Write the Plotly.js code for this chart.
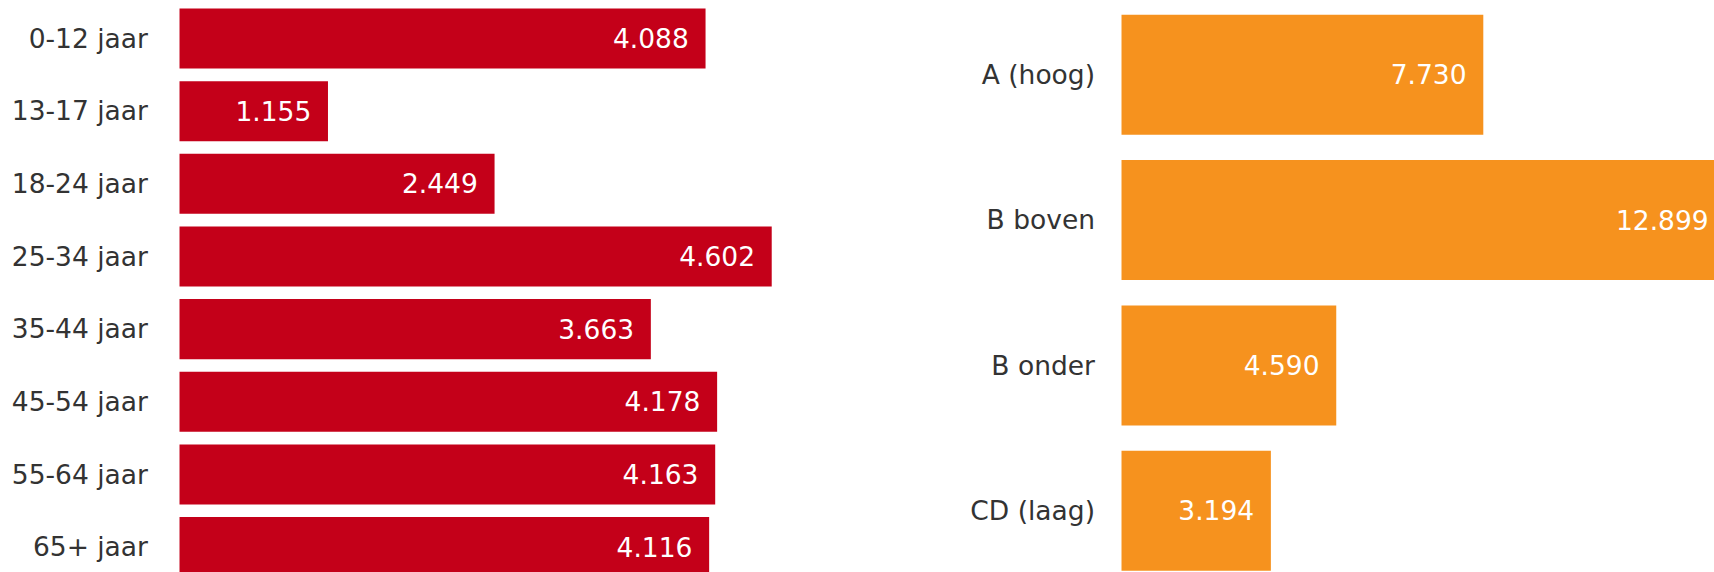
<!DOCTYPE html>
<html>
<head>
<meta charset="utf-8">
<script src="https://cdn.plot.ly/plotly-3.0.1.min.js"></script>
<style>html,body{margin:0;padding:0;background:#fff;}#chart{width:1714px;height:572px;}</style>
</head>
<body>
<div id="chart"></div>
<script>
// Leeftijd (age groups)
const ageCategories = ['0-12 jaar', '13-17 jaar', '18-24 jaar', '25-34 jaar', '35-44 jaar', '45-54 jaar', '55-64 jaar', '65+ jaar'];
const ageValues = [4088, 1155, 2449, 4602, 3663, 4178, 4163, 4116];
// Sociale klasse
const classCategories = ['A (hoog)', 'B boven', 'B onder', 'CD (laag)'];
const classValues = [7730, 12899, 4590, 3194];

const W = 1714;
const fontFam = '"DejaVu Sans", Verdana, sans-serif';
const FS = 26.5;
const PAD = '\u00a0\u2009';

const traces = [
  {
    type: 'bar', orientation: 'h',
    x: ageValues, y: ageCategories,
    xaxis: 'x', yaxis: 'y',
    marker: {color: '#C40019', line: {width: 0}},
    texttemplate: '%{x:,}' + PAD,
    textposition: 'inside', insidetextanchor: 'end',
    textfont: {family: fontFam, size: FS, color: '#ffffff'},
    constraintext: 'none',
    hoverinfo: 'none'
  },
  {
    type: 'bar', orientation: 'h',
    x: classValues, y: classCategories,
    xaxis: 'x2', yaxis: 'y2',
    marker: {color: '#F6921E', line: {width: 0}},
    texttemplate: '%{x:,}' + PAD,
    textposition: 'inside', insidetextanchor: 'end',
    textfont: {family: fontFam, size: FS, color: '#ffffff'},
    constraintext: 'none',
    hoverinfo: 'none'
  }
];

const leftX0 = 179.3, leftX1 = 850, leftScale = 0.12873;
const rightX0 = 1121.3, rightX1 = 1714, rightScale = 0.04683;

const layout = {
  width: 1714, height: 572,
  margin: {l: 0, r: 0, t: 0, b: 0},
  paper_bgcolor: '#ffffff', plot_bgcolor: '#ffffff',
  separators: ',.',
  showlegend: false,
  bargap: 0.174,
  font: {family: fontFam, size: FS, color: '#333333'},
  xaxis: {
    domain: [leftX0 / W, leftX1 / W],
    range: [0, (leftX1 - leftX0) / leftScale],
    showgrid: false, zeroline: false, showticklabels: false, showline: false, fixedrange: true
  },
  yaxis: {
    anchor: 'x',
    domain: [0, 1],
    type: 'category',
    range: [7.343, -0.530],
    showgrid: false, zeroline: false, showline: false,
    ticks: 'outside', ticklen: 25, tickcolor: 'rgba(0,0,0,0)',
    tickfont: {family: fontFam, size: FS, color: '#333333'},
    fixedrange: true
  },
  xaxis2: {
    domain: [rightX0 / W, 1],
    range: [0, (rightX1 - rightX0) / rightScale],
    anchor: 'y2',
    showgrid: false, zeroline: false, showticklabels: false, showline: false, fixedrange: true
  },
  yaxis2: {
    anchor: 'x2',
    domain: [0, 1],
    type: 'category',
    range: [3.422, -0.515],
    showgrid: false, zeroline: false, showline: false,
    ticks: 'outside', ticklen: 20, tickcolor: 'rgba(0,0,0,0)',
    tickfont: {family: fontFam, size: FS, color: '#333333'},
    fixedrange: true
  }
};

Plotly.newPlot('chart', traces, layout, {displayModeBar: false, staticPlot: true});
</script>
</body>
</html>
